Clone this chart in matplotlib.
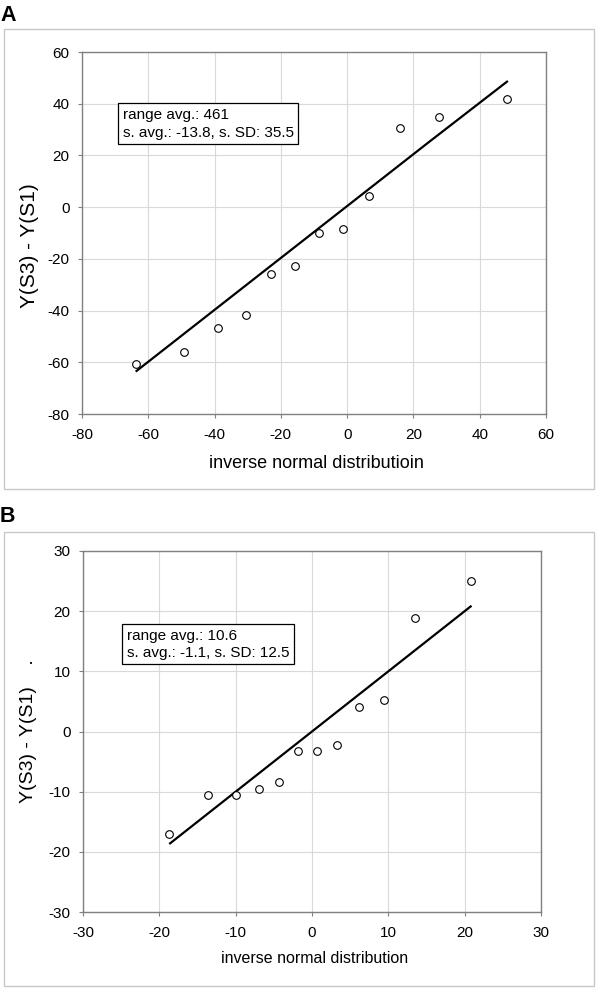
import matplotlib
matplotlib.use('Agg')
import matplotlib.pyplot as plt
from matplotlib.patches import Rectangle

plt.rcParams['font.family'] = ['Liberation Sans', 'DejaVu Sans']
plt.rcParams['axes.unicode_minus'] = False

# Paneel A
a_x = [-63.8, -49.2, -39.0, -30.5, -23.0, -15.6, -8.6, -1.2, 6.7, 16.0, 27.7, 48.2]
a_y = [-60.7, -56.2, -46.9, -41.9, -25.9, -22.6, -9.9, -8.4, 4.4, 30.5, 35.0, 41.7]
a_line_x = [-63.8, 24.1, 48.5]
a_line_y = [-63.6, 24.6, 48.8]
a_ticks = [-80, -60, -40, -20, 0, 20, 40, 60]
a_box = 'range avg.: 461\ns. avg.: -13.8, s. SD: 35.5'

# Paneel B
b_x = [-18.7, -13.6, -10.0, -7.0, -4.3, -1.8, 0.7, 3.3, 6.1, 9.4, 13.5, 20.8]
b_y = [-17.0, -10.6, -10.6, -9.5, -8.4, -3.3, -3.3, -2.2, 4.0, 5.3, 18.8, 25.0]
b_line_x = [-18.7, 20.9]
b_line_y = [-18.7, 20.9]
b_ticks = [-30, -20, -10, 0, 10, 20, 30]
b_box = 'range avg.: 10.6\ns. avg.: -1.1, s. SD: 12.5'

W, H = 600, 993
fig = plt.figure(figsize=(W / 100, H / 100), dpi=100)


def px_axes(left, top, right, bottom):
    return fig.add_axes([left / W, 1 - bottom / H, (right - left) / W, (bottom - top) / H])


def frame(left, top, right, bottom):
    fig.patches.append(Rectangle((left / W, 1 - bottom / H), (right - left) / W, (bottom - top) / H,
                                 transform=fig.transFigure, fill=False, ec='#c8c8c8', lw=1.0))


def style(ax, ticks):
    ax.set_xlim(ticks[0], ticks[-1])
    ax.set_ylim(ticks[0], ticks[-1])
    ax.set_xticks(ticks)
    ax.set_yticks(ticks)
    ax.grid(True, color='#d9d9d9', lw=0.8)
    ax.set_axisbelow(True)
    for s in ax.spines.values():
        s.set_color('#808080')
        s.set_linewidth(1.0)
    ax.tick_params(axis='both', length=3, width=0.8, color='#808080', labelsize=11)
    ax.tick_params(axis='x', pad=7)
    ax.tick_params(axis='y', pad=6)


frame(4, 29, 594, 489)
frame(4, 532, 594, 986)

# A
ax1 = px_axes(82, 52, 546, 414)
style(ax1, a_ticks)
ax1.plot(a_line_x, a_line_y, color='black', lw=1.6, solid_capstyle='butt')
ax1.plot(a_x, a_y, 'o', mfc='white', mec='black', mew=0.8, ms=5.5, ls='none')
ax1.set_xlabel('inverse normal distributioin', fontsize=13)
ax1.xaxis.set_label_coords(0.505, -0.138)
ax1.xaxis.label.set_va('center')
ax1.set_ylabel('Y(S3) - Y(S1)', fontsize=15)
ax1.yaxis.set_label_coords(-0.114, 0.464)
ax1.yaxis.label.set_va('center')
ax1.text(0.088, 0.846, a_box, transform=ax1.transAxes, ha='left', va='top', fontsize=11,
         linespacing=1.35, bbox=dict(boxstyle='square,pad=0.3', fc='white', ec='black', lw=0.9))

# B
ax2 = px_axes(83, 551, 541, 912)
style(ax2, b_ticks)
ax2.plot(b_line_x, b_line_y, color='black', lw=1.6, solid_capstyle='butt')
ax2.plot(b_x, b_y, 'o', mfc='white', mec='black', mew=0.8, ms=5.5, ls='none')
ax2.set_xlabel('inverse normal distribution', fontsize=11.5,
               family=['Liberation Sans Narrow', 'Liberation Sans', 'DejaVu Sans'])
ax2.xaxis.set_label_coords(0.505, -0.13)
ax2.xaxis.label.set_va('center')
ax2.set_ylabel('Y(S3) - Y(S1)    .', fontsize=14)
ax2.yaxis.set_label_coords(-0.118, 0.5)
ax2.yaxis.label.set_va('center')
ax2.text(0.096, 0.785, b_box, transform=ax2.transAxes, ha='left', va='top', fontsize=11,
         linespacing=1.3, bbox=dict(boxstyle='square,pad=0.3', fc='white', ec='black', lw=0.9))

fig.text(0.0, 1 - 21 / H, 'A', fontsize=15.5, fontweight='bold', va='baseline', ha='left')
fig.text(0.0, 1 - 522 / H, 'B', fontsize=15.5, fontweight='bold', va='baseline', ha='left')

fig.savefig('out.png', dpi=100)
